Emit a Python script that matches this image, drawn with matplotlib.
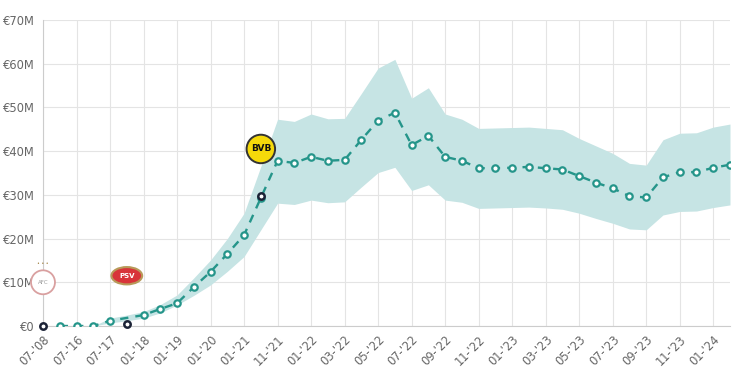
import numpy as np
import matplotlib
matplotlib.use("Agg")
import matplotlib.pyplot as plt

nan = np.nan
tick_labels = ["07-'08", "07-'16", "07-'17", "01-'18", "01-'19", "01-'20", "01-'21",
               "11-'21", "01-'22", "03-'22", "05-'22", "07-'22", "09-'22", "11-'22",
               "01-'23", "03-'23", "05-'23", "07-'23", "09-'23", "11-'23", "01-'24"]

market_value = [nan, 0, 0, 0, 1.2, nan, 2.5, 3.9, 5.2, 8.9, 12.4, 16.5, 20.8, 29.3,
                37.8, 37.3, 38.7, 37.8, 38.0, 42.6, 47.0, 48.8, 41.4, 43.5, 38.7, 37.8,
                36.1, 36.1, 36.2, 36.4, 36.1, 35.8, 34.3, 32.8, 31.5, 29.7, 29.4, 34.0,
                35.2, 35.2, 36.2, 36.9]

band_upper = [nan, nan, nan, 0, 1.8, 2.5, 3.3, 4.9, 7.1, 11.0, 15.1, 20.0, 25.8, 36.5,
              47.3, 46.8, 48.5, 47.4, 47.5, 53.2, 59.0, 61.0, 52.1, 54.5, 48.5, 47.3,
              45.2, 45.3, 45.4, 45.5, 45.2, 44.9, 42.9, 41.2, 39.5, 37.2, 36.8, 42.6,
              44.1, 44.2, 45.5, 46.2]

band_lower = [nan, nan, nan, 0, 0.7, 1.2, 1.8, 3.0, 4.8, 7.0, 9.4, 12.5, 15.9, 22.0,
              28.1, 27.8, 28.8, 28.2, 28.4, 31.8, 35.1, 36.3, 31.0, 32.3, 28.8, 28.3,
              26.9, 27.0, 27.1, 27.2, 27.0, 26.7, 25.8, 24.6, 23.5, 22.2, 22.0, 25.4,
              26.2, 26.3, 27.1, 27.7]

transfer_idx = [0, 5, 13]
transfer_value = [0, 0.5, 29.8]
clubs = ["Ajax", "PSV", "BVB"]
club_logo_y = [10.0, 11.5, 40.5]

teal = "#25958a"
band_col = "#c6e4e4"
grid_col = "#e4e4e4"
text_col = "#666666"

x = np.arange(len(market_value))
mv = np.array(market_value, dtype=float)
up = np.array(band_upper, dtype=float)
lo = np.array(band_lower, dtype=float)

fig = plt.figure(figsize=(7.5, 3.75), dpi=100)
ax = fig.add_axes([43/750, 1-326/375, (730-43)/750, (326-20)/375])

ax.fill_between(x, lo, up, where=~np.isnan(up), color=band_col, lw=0, zorder=1)
m = ~np.isnan(mv)
ax.plot(x[m], mv[m], ls=(0, (3.5, 3.0)), color=teal, lw=1.7, zorder=3,
        marker="o", ms=4.6, mfc="white", mec=teal, mew=1.6)
ax.plot(transfer_idx, transfer_value, ls="none", marker="o", ms=4.6, mfc="white",
        mec="#1b2236", mew=1.8, zorder=4, clip_on=False)

# club logos (approximations)
ax.text(transfer_idx[0], club_logo_y[0], "AFC", fontsize=4, color="#999999",
        ha="center", va="center", zorder=6,
        bbox=dict(boxstyle="circle,pad=1.2", fc="white", ec="#d9a0a0", lw=1.3))
ax.text(transfer_idx[0], club_logo_y[0] + 4.3, "• • •", fontsize=3.5, color="#a08040",
        ha="center", va="center", zorder=6)
ax.text(transfer_idx[1], club_logo_y[1], "PSV", fontsize=5, color="white",
        fontweight="bold", ha="center", va="center", zorder=6,
        bbox=dict(boxstyle="ellipse,pad=0.45", fc="#d8343a", ec="#b89a5a", lw=1.5))
ax.text(transfer_idx[2], club_logo_y[2], "BVB", fontsize=6.5, color="#111111",
        fontweight="bold", ha="center", va="center", zorder=6,
        bbox=dict(boxstyle="circle,pad=0.45", fc="#f5d90a", ec="#333333", lw=1.4))

ax.set_xlim(0, len(market_value) - 1)
ax.set_ylim(0, 70)
ax.set_yticks(np.arange(0, 71, 10))
ax.set_yticklabels(["€0"] + [f"€{v}M" for v in range(10, 71, 10)])
ax.set_xticks(np.arange(0, 2 * len(tick_labels), 2))
ax.set_xticklabels(tick_labels, rotation=45, ha="right", rotation_mode="anchor")

ax.grid(True, color=grid_col, lw=0.8, zorder=0)
ax.set_axisbelow(True)
for s in ["top", "right"]:
    ax.spines[s].set_visible(False)
ax.spines["left"].set_color("#cccccc")
ax.spines["bottom"].set_color("#cccccc")
ax.tick_params(axis="both", length=0, colors=text_col, labelsize=8.3)
ax.tick_params(axis="x", pad=5)
ax.tick_params(axis="y", pad=6)

fig.savefig("out.png", dpi=100)
